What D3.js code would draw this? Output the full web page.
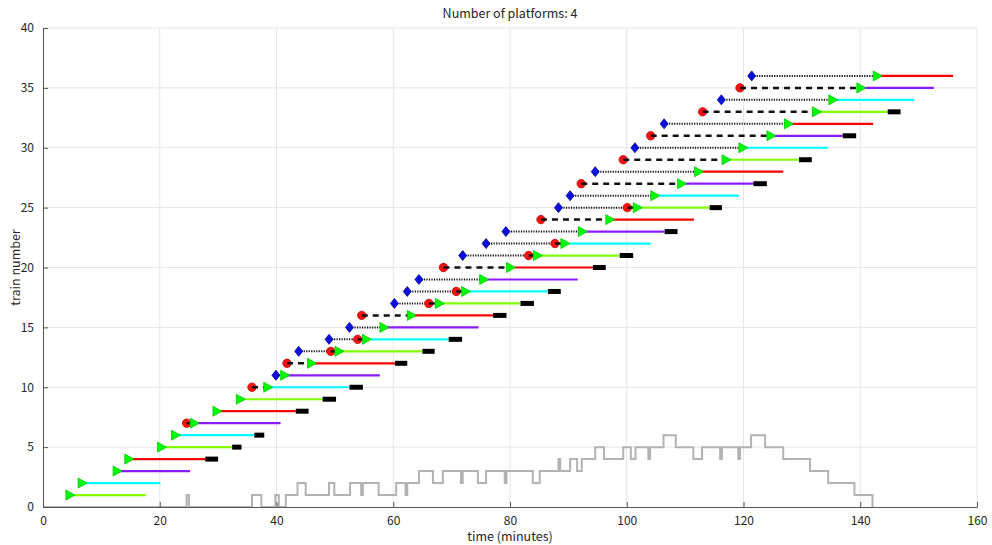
<!DOCTYPE html>
<html>
<head>
<meta charset="utf-8">
<script src="https://cdn.jsdelivr.net/npm/d3@7/dist/d3.min.js"></script>
<style>
  html, body { margin: 0; padding: 0; background: #fff; }
  svg { display: block; }
  text { font-family: "Noto Sans CJK JP", "Noto Sans", sans-serif; fill: #262626; }
</style>
</head>
<body>
<svg id="chart" width="992" height="545"></svg>
<script>
// ---------------- data ----------------
const titleText = "Number of platforms: 4";
const xLabel = "time (minutes)";
const yLabel = "train number";
const xTicks = [0, 20, 40, 60, 80, 100, 120, 140, 160];
const yTicks = [0, 5, 10, 15, 20, 25, 30, 35, 40];

const trainNumber = [1,2,3,4,5,6,7,8,9,10,11,12,13,14,15,16,17,18,19,20,21,22,23,24,25,26,27,28,29,30,31,32,33,34,35,36];
const platform    = [1,2,3,4,1,2,3,4,1,2,3,4,1,2,3,4,1,2,3,4,1,2,3,4,1,2,3,4,1,2,3,4,1,2,3,4];
// blue diamond (waiting starts), null if none
const blueTime = [null,null,null,null,null,null,null,null,null,null,39.9,null,43.8,49.0,52.5,null,60.2,62.4,64.4,null,71.9,75.9,79.3,null,88.3,90.3,null,94.6,null,101.4,null,106.4,null,116.2,null,121.4];
// red circle, null if none
const redTime  = [null,null,null,null,null,null,24.6,null,null,35.8,null,41.8,49.3,53.9,null,54.6,66.1,70.8,null,68.6,83.2,87.7,null,85.3,100.1,null,92.2,null,99.4,null,104.1,null,113.0,null,119.4,null];
// green triangle: platform entry
const entryTime = [4.6,6.7,12.7,14.7,20.3,22.7,25.9,29.8,33.8,38.5,41.4,46.0,50.7,55.4,58.4,63.1,67.9,72.4,75.5,80.1,84.7,89.4,92.4,97.1,101.8,104.8,109.4,112.3,117.0,119.9,124.7,127.7,132.5,135.3,140.1,142.9];
// end of coloured platform occupation
const leaveTime = [17.6,20.1,25.2,27.8,32.4,36.2,40.7,43.3,47.9,52.5,57.7,60.3,65.0,69.5,74.6,77.1,81.8,86.5,91.6,94.2,98.8,104.1,106.5,111.5,114.2,119.2,121.7,126.8,129.5,134.5,137.0,142.2,144.7,149.2,152.6,155.9];
// end of black bar (delayed departure), null if none
const delayEnd = [null,null,null,30.0,34.0,37.9,null,45.5,50.2,54.8,null,62.4,67.1,71.8,null,79.4,84.1,88.7,null,96.4,101.1,null,108.7,null,116.3,null,124.0,null,131.7,null,139.3,null,146.9,null,null,null];

// grey step line: level starting at the given time
const stepTime  = [0,24.6,25.0,35.8,37.4,39.8,40.4,41.6,43.6,45.0,49.0,49.9,52.6,54.5,54.8,57.5,60.5,62.1,62.4,64.4,66.8,68.5,71.6,71.9,74.5,75.9,79.1,79.4,83.9,85.1,88.3,88.6,90.3,91.5,92.3,94.6,96.1,99.4,100.7,101.5,103.7,104.0,106.3,108.4,111.4,112.9,116.0,116.3,119.1,119.4,121.3,123.7,126.8,131.4,134.5,139.0,142.1];
const stepLevel = [0,1,0,1,0,1,0,1,2,1,2,1,2,1,2,1,2,1,2,3,2,3,2,3,2,3,2,3,2,3,4,3,4,3,4,5,4,5,4,5,4,5,6,5,4,5,4,5,4,5,6,5,4,3,2,1,0];

const platformColor = {1: "#80ff00", 2: "#00ffff", 3: "#8c1aff", 4: "#ff0000"};

// ---------------- layout ----------------
const svg = d3.select("#chart");
const W = 992, H = 545;
const m = {left: 43, right: 15, top: 28, bottom: 38};
const x = d3.scaleLinear().domain([0, 160]).range([m.left, W - m.right]);
const y = d3.scaleLinear().domain([0, 40]).range([H - m.bottom, m.top]);

// grid
const grid = svg.append("g");
grid.selectAll("line.vx").data(xTicks.slice(1)).join("line")
  .attr("x1", d => x(d)).attr("x2", d => x(d))
  .attr("y1", y(0)).attr("y2", y(40))
  .attr("stroke", "#e6e6e6").attr("stroke-width", 1);
grid.selectAll("line.hy").data(yTicks.slice(1)).join("line")
  .attr("x1", x(0)).attr("x2", x(160))
  .attr("y1", d => y(d)).attr("y2", d => y(d))
  .attr("stroke", "#e6e6e6").attr("stroke-width", 1);

// grey step line
const stepData = stepTime.map((t, i) => [t, stepLevel[i]]);
svg.append("path")
  .datum(stepData)
  .attr("fill", "none")
  .attr("stroke", "#b3b3b3")
  .attr("stroke-width", 2)
  .attr("d", d3.line().x(d => x(d[0])).y(d => y(d[1])).curve(d3.curveStepAfter));

// axes
const xAxis = d3.axisBottom(x).tickValues(xTicks).tickSizeInner(-5).tickSizeOuter(0).tickPadding(9);
const yAxis = d3.axisLeft(y).tickValues(yTicks).tickSizeInner(-5).tickSizeOuter(0).tickPadding(9);
const gx = svg.append("g").attr("transform", `translate(0,${y(0)})`).call(xAxis);
const gy = svg.append("g").attr("transform", `translate(${x(0)},0)`).call(yAxis);
[gx, gy].forEach(g => {
  g.select(".domain").attr("stroke", "#555").attr("stroke-width", 1);
  g.selectAll(".tick line").attr("stroke", "#555");
  g.selectAll(".tick text").attr("font-size", 12).attr("fill", "#262626")
    .attr("font-family", '"Noto Sans CJK JP", "Noto Sans", sans-serif');
});

// trains
const trains = trainNumber.map((k, i) => ({
  k, p: platform[i], blue: blueTime[i], red: redTime[i], entry: entryTime[i],
  leave: leaveTime[i], delay: delayEnd[i]
}));

const gT = svg.append("g");
// dotted waiting lines (blue -> red or entry)
gT.selectAll("line.dot").data(trains.filter(d => d.blue != null)).join("line")
  .attr("x1", d => x(d.blue)).attr("x2", d => x(d.red != null ? d.red : d.entry))
  .attr("y1", d => y(d.k)).attr("y2", d => y(d.k))
  .attr("stroke", "#111").attr("stroke-width", 2).attr("stroke-dasharray", "1.2,1.3");
// blue diamonds
gT.selectAll("path.blue").data(trains.filter(d => d.blue != null)).join("path")
  .attr("transform", d => `translate(${x(d.blue)},${y(d.k)})`)
  .attr("d", "M0,-5 L4,0 L0,5 L-4,0 Z")
  .attr("fill", "#0a10d8").attr("stroke", "#0000a0").attr("stroke-width", 0.8);
// red circles
gT.selectAll("circle.red").data(trains.filter(d => d.red != null)).join("circle")
  .attr("cx", d => x(d.red)).attr("cy", d => y(d.k)).attr("r", 4.2)
  .attr("fill", "#ff1010").attr("stroke", "#c00000").attr("stroke-width", 0.8);
// dashed lines red -> entry
gT.selectAll("line.dash").data(trains.filter(d => d.red != null)).join("line")
  .attr("x1", d => x(d.red)).attr("x2", d => x(d.entry))
  .attr("y1", d => y(d.k)).attr("y2", d => y(d.k))
  .attr("stroke", "#111").attr("stroke-width", 2.5).attr("stroke-dasharray", "6,5");
// coloured platform lines
gT.selectAll("line.plat").data(trains).join("line")
  .attr("x1", d => x(d.entry)).attr("x2", d => x(d.leave))
  .attr("y1", d => y(d.k)).attr("y2", d => y(d.k))
  .attr("stroke", d => platformColor[d.p]).attr("stroke-width", 2.2);
// black delay bars
gT.selectAll("line.delay").data(trains.filter(d => d.delay != null)).join("line")
  .attr("x1", d => x(d.leave)).attr("x2", d => x(d.delay))
  .attr("y1", d => y(d.k)).attr("y2", d => y(d.k))
  .attr("stroke", "#000").attr("stroke-width", 5);
// green triangles
gT.selectAll("path.tri").data(trains).join("path")
  .attr("transform", d => `translate(${x(d.entry)},${y(d.k)})`)
  .attr("d", "M-4,-5 L5,0 L-4,5 Z")
  .attr("fill", "#00ff00").attr("stroke", "#00c800").attr("stroke-width", 0.8);

// title and labels
svg.append("text").attr("x", (x(0) + x(160)) / 2).attr("y", 18)
  .attr("text-anchor", "middle").attr("font-size", 12.5).text(titleText);
svg.append("text").attr("x", (x(0) + x(160)) / 2).attr("y", 541)
  .attr("text-anchor", "middle").attr("font-size", 12.5).text(xLabel);
svg.append("text").attr("transform", `translate(20,${(y(0) + y(40)) / 2}) rotate(-90)`)
  .attr("text-anchor", "middle").attr("font-size", 12.5).text(yLabel);
</script>
</body>
</html>
